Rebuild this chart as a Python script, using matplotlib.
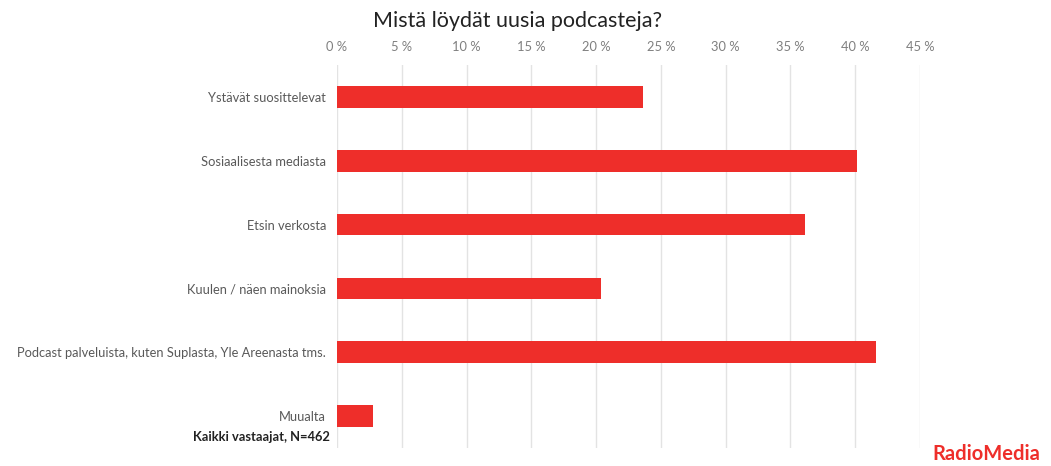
import matplotlib.pyplot as plt

categories = [
    "Ystävät suosittelevat",
    "Sosiaalisesta mediasta",
    "Etsin verkosta",
    "Kuulen / näen mainoksia",
    "Podcast palveluista, kuten Suplasta, Yle Areenasta tms.",
    "Muualta",
]
values = [23.6, 40.1, 36.1, 20.4, 41.6, 2.8]
ticks = list(range(0, 50, 5))

plt.rcParams['font.family'] = ['Lato', 'DejaVu Sans']

fig = plt.figure(figsize=(10.51, 4.66), dpi=100)
ax = fig.add_axes([0.3207, 0.0386, 0.5547, 0.8219])

ax.barh(range(len(categories)), values, height=0.34, color="#ee2e2a", zorder=3)
ax.set_ylim(len(categories) - 0.5, -0.5)
ax.set_xlim(0, 45)
ax.set_xticks(ticks)
ax.set_xticklabels([f"{t} %" for t in ticks])
ax.xaxis.tick_top()
ax.tick_params(axis="x", length=0, pad=9, labelsize=9.3, labelcolor="#7f7f7f")
ax.set_yticks(range(len(categories)))
ax.set_yticklabels(categories)
ax.tick_params(axis="y", length=0, pad=8, labelsize=9.3, labelcolor="#595959")
ax.grid(axis="x", color="#e3e3e3", linewidth=1, zorder=0)
for s in ax.spines.values():
    s.set_visible(False)

fig.text(0.492, 0.955, "Mistä löydät uusia podcasteja?", ha="center", va="center",
         fontsize=15.5, color="#222222")
fig.text(0.314, 0.062, "Kaikki vastaajat, N=462", ha="right", va="center",
         fontsize=9.3, fontweight="bold", color="#222222")
fig.text(0.99, 0.025, "RadioMedia", ha="right", va="center",
         fontsize=14.5, fontweight="bold", color="#ee2e2a")

fig.savefig("out.png", dpi=100)
